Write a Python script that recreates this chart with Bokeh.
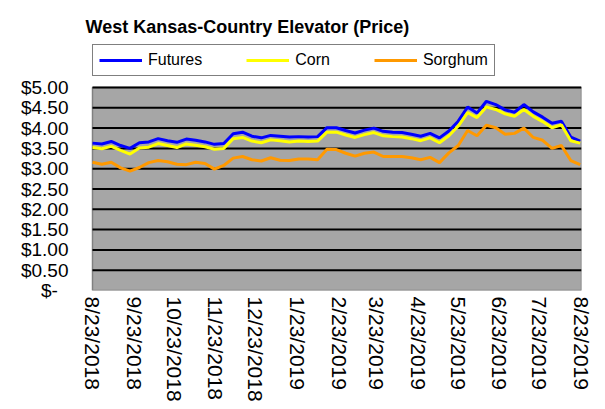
import pandas as pd
from bokeh.plotting import figure
from bokeh.models import Range1d, FixedTicker, Legend, LegendItem, Label
from bokeh.embed import file_html
from bokeh.resources import INLINE

title_text = "West Kansas-Country Elevator (Price)"
start_date = "2018-08-23"
n_weeks = 53

x_tick_labels = ["8/23/2018", "9/23/2018", "10/23/2018", "11/23/2018", "12/23/2018",
                 "1/23/2019", "2/23/2019", "3/23/2019", "4/23/2019", "5/23/2019",
                 "6/23/2019", "7/23/2019", "8/23/2019"]
y_ticks = [0.0, 0.5, 1.0, 1.5, 2.0, 2.5, 3.0, 3.5, 4.0, 4.5, 5.0]
y_tick_labels = ["$-\u00a0\u00a0", "$0.50", "$1.00", "$1.50", "$2.00", "$2.50",
                 "$3.00", "$3.50", "$4.00", "$4.50", "$5.00"]

futures = [3.63, 3.61, 3.67, 3.57, 3.50, 3.64, 3.66, 3.74, 3.69, 3.65,
           3.73, 3.70, 3.66, 3.60, 3.62, 3.86, 3.90, 3.80, 3.76, 3.82,
           3.80, 3.78, 3.79, 3.78, 3.79, 4.01, 4.01, 3.94, 3.88, 3.95,
           4.00, 3.92, 3.90, 3.89, 3.85, 3.80, 3.87, 3.76, 3.93, 4.17,
           4.52, 4.37, 4.66, 4.58, 4.45, 4.39, 4.58, 4.40, 4.27, 4.12,
           4.17, 3.78, 3.68]
corn = [3.52, 3.49, 3.55, 3.45, 3.36, 3.51, 3.53, 3.62, 3.57, 3.52,
        3.61, 3.58, 3.54, 3.48, 3.50, 3.74, 3.77, 3.68, 3.64, 3.71,
        3.69, 3.66, 3.68, 3.67, 3.68, 3.90, 3.90, 3.83, 3.77, 3.84,
        3.89, 3.81, 3.79, 3.78, 3.74, 3.69, 3.76, 3.64, 3.81, 4.05,
        4.38, 4.26, 4.52, 4.46, 4.35, 4.29, 4.46, 4.29, 4.16, 4.01,
        4.08, 3.69, 3.63]
sorghum = [3.16, 3.11, 3.16, 3.02, 2.94, 3.03, 3.15, 3.20, 3.17, 3.11,
           3.10, 3.16, 3.13, 2.99, 3.08, 3.26, 3.30, 3.22, 3.19, 3.27,
           3.21, 3.20, 3.24, 3.24, 3.22, 3.48, 3.47, 3.38, 3.31, 3.38,
           3.41, 3.30, 3.30, 3.30, 3.27, 3.22, 3.28, 3.15, 3.39, 3.57,
           3.94, 3.81, 4.07, 4.01, 3.85, 3.87, 4.00, 3.77, 3.70, 3.50,
           3.57, 3.20, 3.10]

series_names = ["Futures", "Corn", "Sorghum"]
series_colors = ["#0000ff", "#ffff00", "#ff9900"]

t0 = pd.Timestamp(start_date)
dates = pd.date_range(start_date, periods=n_weeks, freq="7D")
xs = [(d - t0).days for d in dates]
x_ticks = [(pd.to_datetime(s, format="%m/%d/%Y") - t0).days for s in x_tick_labels]

FONT = "Liberation Sans"

# layout (pixels)
W, H = 600, 407
AREA_L, AREA_R, AREA_T, AREA_B = 92, 581, 87, 290   # grey plot area
FRAME_L = 84                                           # frame extends left/up for title & legend
area_w = AREA_R - AREA_L
area_h = AREA_B - AREA_T
x0, x1 = x_ticks[0], x_ticks[-1]
y0, y1 = y_ticks[0], y_ticks[-1]
xr_start = x0 - (AREA_L - FRAME_L) * (x1 - x0) / area_w
yr_end = y0 + AREA_B * (y1 - y0) / area_h

p = figure(width=W, height=H, output_backend="svg", toolbar_location=None,
           x_range=Range1d(xr_start, x1), y_range=Range1d(y0, yr_end),
           min_border_left=FRAME_L, min_border_right=W - AREA_R, min_border_top=0,
           min_border_bottom=H - AREA_B)

p.background_fill_color = "white"
p.border_fill_color = "white"
p.outline_line_color = None
p.xgrid.visible = False
p.ygrid.visible = False

# grey plot area and horizontal grid lines
p.quad(left=x0, right=x1, bottom=y0, top=y1, fill_color="#a6a6a6",
       line_color="#808080", line_width=1.5)
p.segment(x0=[x0] * (len(y_ticks) - 1), x1=[x1] * (len(y_ticks) - 1),
          y0=y_ticks[1:], y1=y_ticks[1:], line_color="black", line_width=2)

p.yaxis.ticker = FixedTicker(ticks=y_ticks)
p.yaxis.major_label_overrides = {float(t): l for t, l in zip(y_ticks, y_tick_labels)}
p.yaxis.axis_line_color = None
p.yaxis.major_tick_line_color = None
p.yaxis.minor_tick_line_color = None
p.yaxis.major_tick_out = 0
p.yaxis.major_tick_in = 0
p.yaxis.major_label_standoff = 16
p.yaxis.major_label_text_font = FONT
p.yaxis.major_label_text_font_size = "19px"
p.yaxis.major_label_text_color = "black"

p.xaxis.ticker = FixedTicker(ticks=x_ticks)
p.xaxis.major_label_overrides = {t: l for t, l in zip(x_ticks, x_tick_labels)}
p.xaxis.major_label_orientation = "vertical"
p.xaxis.axis_line_color = None
p.xaxis.major_tick_line_color = None
p.xaxis.minor_tick_line_color = None
p.xaxis.major_tick_out = 0
p.xaxis.major_tick_in = 0
p.xaxis.major_label_standoff = 6
p.xaxis.major_label_text_font = FONT
p.xaxis.major_label_text_font_size = "21px"
p.xaxis.major_label_text_color = "black"

items = []
for name, vals, col in zip(series_names, [futures, corn, sorghum], series_colors):
    r = p.line(xs, vals, line_color=col, line_width=3)
    items.append(LegendItem(label=name, renderers=[r]))

legend = Legend(items=items, orientation="horizontal",
                location=(AREA_L - FRAME_L, AREA_B - 76),
                padding=6, spacing=44, glyph_width=43, glyph_height=16,
                label_standoff=6, label_text_font=FONT, label_text_font_size="16px",
                label_text_color="black",
                label_height=16, border_line_color="black", border_line_width=1,
                background_fill_color="white", margin=0)
p.add_layout(legend)

title = Label(text=title_text, x=85 - FRAME_L, y=AREA_B - 26, x_units="screen",
              y_units="screen", text_font=FONT, text_font_size="18px",
              text_font_style="bold", text_color="black", text_baseline="alphabetic")
p.add_layout(title)

open("out.html", "w").write(file_html(p, INLINE))
